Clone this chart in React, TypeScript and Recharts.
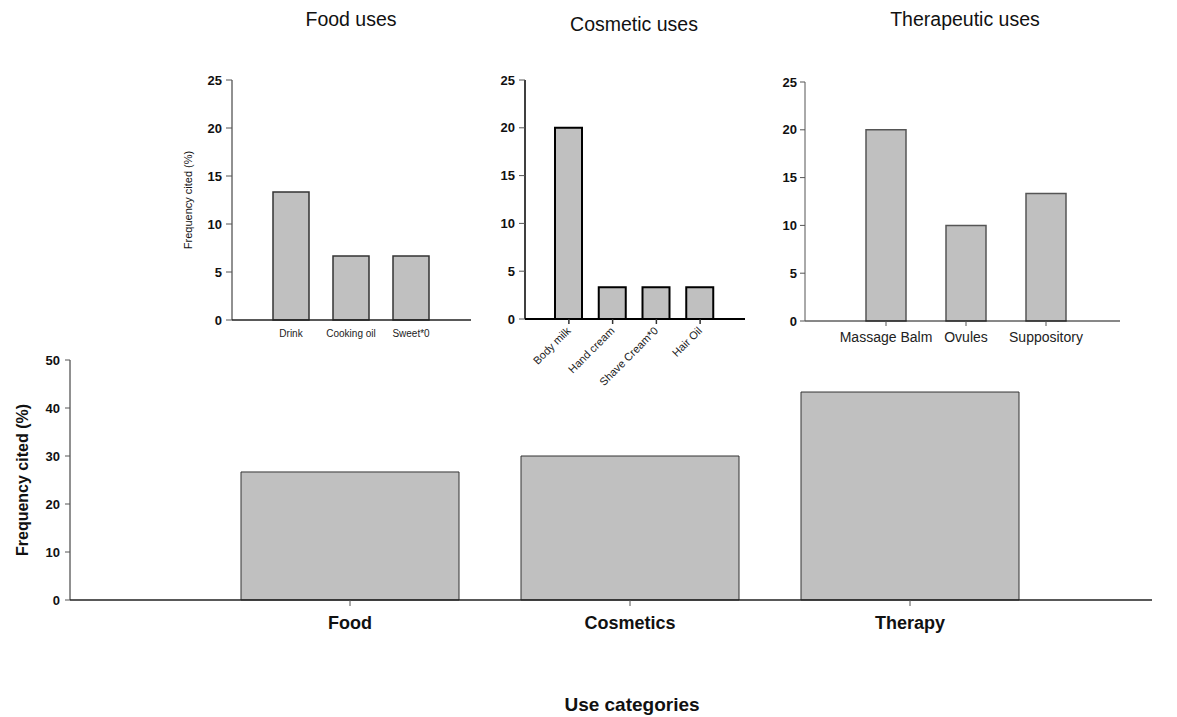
import React from "react";
import { BarChart, Bar, XAxis, YAxis, Label } from "recharts";

// values (% of citations)
const mainCategories = ["Food", "Cosmetics", "Therapy"];
const mainValues = [26.67, 30, 43.33];
const mainTicks = [0, 10, 20, 30, 40, 50];

const foodUses = ["Drink", "Cooking oil", "Sweet*0"];
const foodValues = [13.33, 6.67, 6.67];

const cosmeticUses = ["Body milk", "Hand cream", "Shave Cream*0", "Hair Oil"];
const cosmeticValues = [20, 3.33, 3.33, 3.33];

const therapyUses = ["Massage Balm", "Ovules", "Suppository"];
const therapyValues = [20, 10, 13.33];

const smallTicks = [0, 5, 10, 15, 20, 25];

const FONT = "'Liberation Sans', Arial, sans-serif";
const BAR_FILL = "#c0c0c0";

const toRows = (names: string[], values: number[]) =>
  names.map((name, i) => ({ name, value: values[i] }));

const SideTitle = (props: any) => {
  const { viewBox, text, x0, size, weight } = props;
  const cy = viewBox ? viewBox.y + viewBox.height / 2 : 0;
  return (
    <text
      x={x0}
      y={cy}
      transform={`rotate(-90 ${x0} ${cy})`}
      textAnchor="middle"
      dominantBaseline="central"
      fontFamily={FONT}
      fontSize={size}
      fontWeight={weight}
      fill="#111"
    >
      {text}
    </text>
  );
};

const BottomTitle = (props: any) => {
  const { viewBox, text, shift } = props;
  const cx = viewBox ? viewBox.x + viewBox.width / 2 + shift : 0;
  const y = viewBox ? viewBox.y + viewBox.height - 6 : 0;
  return (
    <text x={cx} y={y} textAnchor="middle" fontFamily={FONT} fontSize={19} fontWeight={700} fill="#111">
      {text}
    </text>
  );
};

const Title = ({ text, x, y }: { text: string; x: number; y: number }) => (
  <div
    style={{
      position: "absolute",
      left: x - 100,
      top: y,
      width: 200,
      textAlign: "center",
      fontFamily: FONT,
      fontSize: 19.5,
      color: "#111",
    }}
  >
    {text}
  </div>
);

const yTick = { fontSize: 13, fontWeight: 700, fill: "#111", fontFamily: FONT };

export default function App() {
  return (
    <div
      style={{
        position: "absolute",
        left: 0,
        top: 0,
        width: 1177,
        height: 717,
        background: "#fff",
        overflow: "hidden",
      }}
    >
      <Title text="Food uses" x={351} y={8} />
      <Title text="Cosmetic uses" x={634} y={13} />
      <Title text="Therapeutic uses" x={965} y={8} />

      {/* Food uses */}
      <div style={{ position: "absolute", left: 170, top: 0 }}>
        <BarChart
          width={320}
          height={350}
          data={toRows(foodUses, foodValues)}
          margin={{ top: 80, right: 19, bottom: 0, left: 0 }}
          barSize={36}
        >
          <XAxis
            dataKey="name"
            height={30}
            padding={{ left: 29, right: 30 }}
            tickLine={false}
            tickSize={0}
            tickMargin={10}
            axisLine={{ stroke: "#222", strokeWidth: 1.5 }}
            tick={{ fontSize: 10, fill: "#222", fontFamily: FONT }}
            interval={0}
          />
          <YAxis
            width={62}
            domain={[0, 25]}
            ticks={smallTicks}
            tickSize={6}
            tickMargin={4}
            axisLine={{ stroke: "#222" }}
            tickLine={{ stroke: "#555" }}
            tick={yTick}
          >
            <Label content={<SideTitle text="Frequency cited (%)" x0={18} size={11} weight={400} />} />
          </YAxis>
          <Bar dataKey="value" fill={BAR_FILL} stroke="#333" strokeWidth={1.5} isAnimationActive={false} />
        </BarChart>
      </div>

      {/* Cosmetic uses */}
      <div style={{ position: "absolute", left: 470, top: 0 }}>
        <BarChart
          width={300}
          height={390}
          data={toRows(cosmeticUses, cosmeticValues)}
          margin={{ top: 80, right: 25, bottom: 0, left: 0 }}
          barSize={27}
        >
          <XAxis
            dataKey="name"
            height={71}
            padding={{ left: 22, right: 23 }}
            tickSize={5}
            tickMargin={2}
            angle={-45}
            textAnchor="end"
            dx={-3}
            interval={0}
            axisLine={{ stroke: "#000", strokeWidth: 2 }}
            tickLine={{ stroke: "#333", strokeWidth: 1.5 }}
            tick={{ fontSize: 11, fill: "#222", fontFamily: FONT }}
          />
          <YAxis
            width={55}
            domain={[0, 25]}
            ticks={smallTicks}
            tickSize={6}
            tickMargin={4}
            axisLine={{ stroke: "#000", strokeWidth: 1.5 }}
            tickLine={{ stroke: "#555" }}
            tick={yTick}
          />
          <Bar dataKey="value" fill={BAR_FILL} stroke="#000" strokeWidth={2} isAnimationActive={false} />
        </BarChart>
      </div>

      {/* Therapeutic uses */}
      <div style={{ position: "absolute", left: 770, top: 0 }}>
        <BarChart
          width={370}
          height={360}
          data={toRows(therapyUses, therapyValues)}
          margin={{ top: 82, right: 20, bottom: 0, left: 0 }}
          barSize={40}
        >
          <XAxis
            dataKey="name"
            height={39}
            padding={{ left: 41, right: 34 }}
            tickSize={5}
            tickMargin={6}
            interval={0}
            axisLine={{ stroke: "#111" }}
            tickLine={{ stroke: "#555" }}
            tick={{ fontSize: 14, fill: "#222", fontFamily: FONT }}
          />
          <YAxis
            width={35}
            domain={[0, 25]}
            ticks={smallTicks}
            tickSize={5}
            tickMargin={3}
            axisLine={{ stroke: "#555" }}
            tickLine={{ stroke: "#555" }}
            tick={yTick}
          />
          <Bar dataKey="value" fill={BAR_FILL} stroke="#555" strokeWidth={1.5} isAnimationActive={false} />
        </BarChart>
      </div>

      {/* Use categories (main) */}
      <div style={{ position: "absolute", left: 0, top: 340 }}>
        <BarChart
          width={1177}
          height={377}
          data={toRows(mainCategories, mainValues)}
          margin={{ top: 20, right: 25, bottom: 0, left: 0 }}
          barSize={218}
        >
          <XAxis
            dataKey="name"
            height={117}
            padding={{ left: 140, right: 102 }}
            tickSize={6}
            tickMargin={10}
            interval={0}
            axisLine={{ stroke: "#222", strokeWidth: 1.5 }}
            tickLine={{ stroke: "#555" }}
            tick={{ fontSize: 18, fontWeight: 700, fill: "#111", fontFamily: FONT }}
          >
            <Label content={<BottomTitle text="Use categories" shift={21} />} />
          </XAxis>
          <YAxis
            width={70}
            domain={[0, 50]}
            ticks={mainTicks}
            tickSize={5}
            tickMargin={5}
            axisLine={{ stroke: "#222" }}
            tickLine={{ stroke: "#555" }}
            tick={yTick}
          >
            <Label content={<SideTitle text="Frequency cited (%)" x0={22} size={16} weight={700} />} />
          </YAxis>
          <Bar dataKey="value" fill={BAR_FILL} stroke="#333" strokeWidth={1} isAnimationActive={false} />
        </BarChart>
      </div>
    </div>
  );
}
